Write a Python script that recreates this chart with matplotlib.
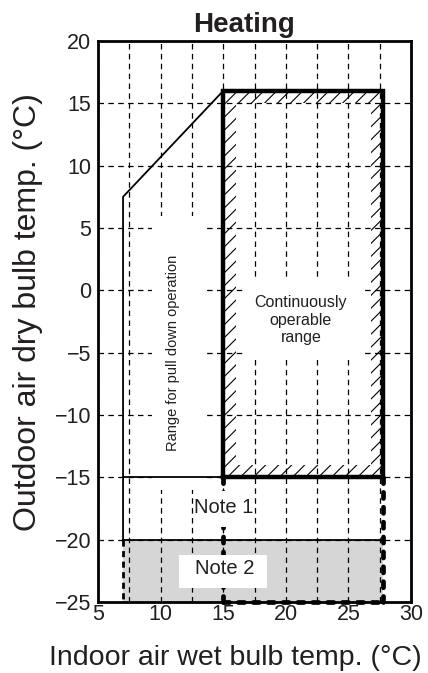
import numpy as np
import matplotlib
matplotlib.use('Agg')
import matplotlib.pyplot as plt
from matplotlib.patches import Rectangle, PathPatch
from matplotlib.path import Path
from matplotlib.collections import LineCollection

plt.rcParams['font.family'] = ['Liberation Sans', 'DejaVu Sans']
INK = '#231f20'

# axes
x_ticks = [5, 10, 15, 20, 25, 30]
x_minor = [7.5, 12.5, 17.5, 22.5, 27.5]
y_ticks = [-25, -20, -15, -10, -5, 0, 5, 10, 15, 20]

# Range for pull down operation (indoor WB, outdoor DB)
pull_x = [7, 7, 15]
pull_y = [-20, 7.5, 16]
pull_low = -15

# Continuously operable range
cont_x = [15, 27.8]
cont_y = [-15, 16]

# Note 1 / Note 2 limits
note1_low = -20
note2_low = -25

fig = plt.figure(figsize=(4.28, 6.73), dpi=100)
ax = fig.add_axes([0.229, 0.1055, 0.7313, 0.8336])
ax.set_xlim(5, 30)
ax.set_ylim(-25, 20)
ax.set_xticks(x_ticks)
ax.set_xticks(x_minor, minor=True)
ax.set_yticks(y_ticks)
ax.tick_params(which='both', length=0, labelsize=15.5, colors=INK)
ax.tick_params(axis='x', pad=1.5)
ax.tick_params(axis='y', pad=5)
for s in ax.spines.values():
    s.set_linewidth(2)
ax.set_axisbelow(True)
grid_kw = dict(color='black', lw=0.9, linestyle=(0, (4.4, 3.5)))
ax.grid(which='both', axis='x', **grid_kw)
ax.grid(which='major', axis='y', **grid_kw)

# grey Note 2 band
ax.fill_between([pull_x[0], cont_x[1]], note2_low, note1_low,
                color='#d6d6d6', lw=0, zorder=0.2)

# white masks behind the labels
for (mx, my, mw, mh, z) in [(9.3, -16, 4.2, 22, 1), (16.6, -5.6, 9.7, 6.4, 1),
                            (12.7, -19.0, 4.6, 2.9, 4.5),
                            (11.45, -23.9, 7.05, 2.7, 4.5)]:
    ax.add_patch(Rectangle((mx, my), mw, mh, fc='white', ec='none', zorder=z))

# hatched band inside the continuous range
band = 1.0
outer = [(cont_x[0], cont_y[0]), (cont_x[1], cont_y[0]), (cont_x[1], cont_y[1]),
         (cont_x[0], cont_y[1]), (cont_x[0], cont_y[0])]
inner = [(cont_x[0] + band, cont_y[0] + band), (cont_x[0] + band, cont_y[1] - band),
         (cont_x[1] - band, cont_y[1] - band), (cont_x[1] - band, cont_y[0] + band),
         (cont_x[0] + band, cont_y[0] + band)]
codes = [Path.MOVETO] + [Path.LINETO] * 3 + [Path.CLOSEPOLY]
frame = PathPatch(Path(outer + inner, codes * 2), fc='none', ec='none')
ax.add_patch(frame)
offs = np.arange(cont_y[0] - cont_x[1], cont_y[1] - cont_x[0] + 1.04, 1.04)
segs = [[(cont_x[0], cont_x[0] + c), (cont_x[1], cont_x[1] + c)] for c in offs]
hatch = LineCollection(segs, colors='black', linewidths=0.8, zorder=2)
hatch.set_clip_path(frame)
ax.add_collection(hatch)

# outlines
ax.plot(pull_x, pull_y, color='black', lw=1.3, zorder=3)
ax.plot([pull_x[0], cont_x[0]], [pull_low, pull_low], color='black', lw=1.3, zorder=3)
ax.plot([pull_x[0], cont_x[1]], [note1_low, note1_low], color='black', lw=1.3, zorder=3)
ax.plot([cont_x[0], cont_x[0], cont_x[1], cont_x[1], cont_x[0]],
        [cont_y[0], cont_y[1], cont_y[1], cont_y[0], cont_y[0]],
        color='black', lw=3.2, solid_joinstyle='miter', zorder=4)

dash_kw = dict(color='black', lw=3.4, linestyle=(0, (1.3, 1.85)),
               dash_capstyle='round', zorder=4, clip_on=False)
ax.plot([cont_x[0], cont_x[0]], [cont_y[0], note2_low], **dash_kw)
ax.plot([cont_x[1], cont_x[1]], [cont_y[0], note2_low], **dash_kw)
ax.plot([cont_x[0], cont_x[1]], [note2_low, note2_low], **dash_kw)
ax.plot([pull_x[0], pull_x[0]], [note1_low, note2_low], color='black', lw=2,
        linestyle=(0, (2.2, 1.6)), zorder=3)

# labels inside
ax.text(21.2, -2.4, 'Continuously\noperable\nrange', ha='center', va='center',
        fontsize=11.5, color=INK, zorder=5)
ax.text(11.0, -5, 'Range for pull down operation', rotation=90, ha='center',
        va='center', fontsize=10.5, color=INK, zorder=5)
ax.text(15.0, -17.45, 'Note 1', ha='center', va='center', fontsize=14.5,
        color=INK, zorder=5)
ax.text(15.1, -22.3, 'Note 2', ha='center', va='center', fontsize=14.5,
        color=INK, zorder=5)

fig.text(0.571, 0.952, 'Heating', ha='center', va='baseline', fontsize=20,
         weight='bold', color=INK)
fig.text(0.550, 0.012, 'Indoor air wet bulb temp. (°C)', ha='center',
         va='baseline', fontsize=20.5, color=INK)
fig.text(0.065, 0.537, 'Outdoor air dry bulb temp. (°C)', ha='center',
         va='center', rotation=90, fontsize=23, color=INK)

fig.savefig('out.png', dpi=100)
